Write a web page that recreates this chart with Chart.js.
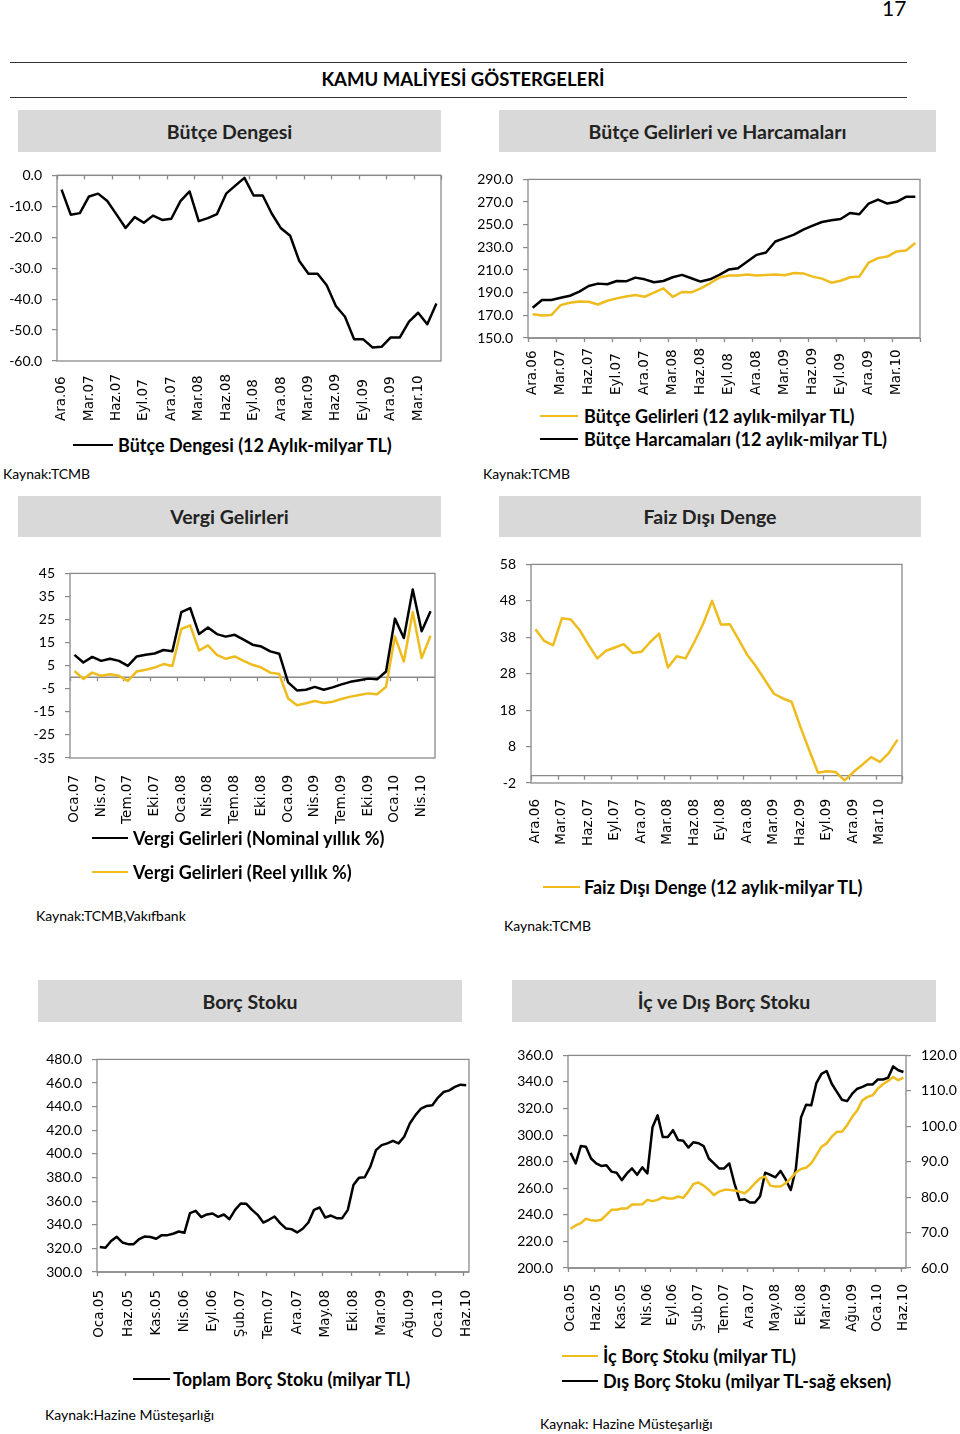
<!DOCTYPE html>
<html lang="tr">
<head>
<meta charset="utf-8">
<title>Kamu Maliyesi Göstergeleri</title>
<script src="https://cdn.jsdelivr.net/npm/chart.js@4.4.1/dist/chart.umd.min.js"></script>
<style>
  body { margin: 0; background: #fff; font-family: Lato, "Open Sans", sans-serif; color: #000; }
  #page { position: relative; width: 960px; height: 1434px; overflow: hidden; }
  .t { position: absolute; white-space: nowrap; }
  .hr { position: absolute; left: 10px; width: 897px; border-top: 1px solid #333; }
  .box { position: absolute; background: #d9d9d9; font-weight: 700; font-size: 19.5px; color: #222;
         display: flex; align-items: center; justify-content: center; }
  .leg { position: absolute; white-space: nowrap; font-weight: 700; font-size: 18px; line-height: 20px; }
  .sw { position: absolute; height: 2px; }
  .src { position: absolute; white-space: nowrap; font-size: 14px; line-height: 16px; }
  canvas { position: absolute; }
</style>
</head>
<body>
<div id="page">
  <div class="t" style="left:882px;top:-3px;font-size:21px;line-height:22px">17</div>
  <div class="hr" style="top:62px"></div>
  <div class="t" style="left:0;width:926px;top:68px;text-align:center;font-size:18.5px;line-height:22px;font-weight:700">KAMU MALİYESİ GÖSTERGELERİ</div>
  <div class="hr" style="top:97px"></div>

  <!-- başlık kutuları -->
  <div class="box" style="left:18px;top:110px;width:423px;height:42px">Bütçe Dengesi</div>
  <div class="box" style="left:499px;top:110px;width:437px;height:42px">Bütçe Gelirleri ve Harcamaları</div>
  <div class="box" style="left:18px;top:496px;width:423px;height:41px">Vergi Gelirleri</div>
  <div class="box" style="left:499px;top:496px;width:422px;height:41px">Faiz Dışı Denge</div>
  <div class="box" style="left:38px;top:980px;width:424px;height:42px">Borç Stoku</div>
  <div class="box" style="left:512px;top:980px;width:424px;height:42px">İç ve Dış Borç Stoku</div>

  <canvas id="c1" style="left:0px;top:157px" width="452" height="273"></canvas>
  <canvas id="c2" style="left:470px;top:161px" width="460" height="244"></canvas>
  <canvas id="c3" style="left:0px;top:555px" width="445" height="275"></canvas>
  <canvas id="c4" style="left:480px;top:546px" width="432" height="304"></canvas>
  <canvas id="c5" style="left:0px;top:1041px" width="479" height="299"></canvas>
  <canvas id="c6" style="left:500px;top:1037px" width="460" height="298"></canvas>

  <!-- lejantlar -->
  <div class="sw" style="left:73px;top:444px;width:40px;background:#000"></div>
  <div class="leg" style="left:118px;top:435px">Bütçe Dengesi (12 Aylık-milyar TL)</div>
  <div class="src" style="left:3px;top:466px">Kaynak:TCMB</div>

  <div class="sw" style="left:540px;top:415px;width:38px;background:#eebc1d"></div>
  <div class="leg" style="left:584px;top:406px">Bütçe Gelirleri (12 aylık-milyar TL)</div>
  <div class="sw" style="left:540px;top:438px;width:38px;background:#000"></div>
  <div class="leg" style="left:584px;top:429px">Bütçe Harcamaları (12 aylık-milyar TL)</div>
  <div class="src" style="left:483px;top:466px">Kaynak:TCMB</div>

  <div class="sw" style="left:92px;top:837px;width:36px;background:#000"></div>
  <div class="leg" style="left:133px;top:828px">Vergi Gelirleri (Nominal yıllık %)</div>
  <div class="sw" style="left:92px;top:871px;width:36px;background:#eebc1d"></div>
  <div class="leg" style="left:133px;top:862px">Vergi Gelirleri (Reel yıllık %)</div>
  <div class="src" style="left:36px;top:908px">Kaynak:TCMB,Vakıfbank</div>

  <div class="sw" style="left:543px;top:886px;width:37px;background:#eebc1d"></div>
  <div class="leg" style="left:584px;top:877px">Faiz Dışı Denge (12 aylık-milyar TL)</div>
  <div class="src" style="left:504px;top:918px">Kaynak:TCMB</div>

  <div class="sw" style="left:133px;top:1378px;width:37px;background:#000"></div>
  <div class="leg" style="left:173px;top:1369px">Toplam Borç Stoku (milyar TL)</div>
  <div class="src" style="left:45px;top:1407px">Kaynak:Hazine Müsteşarlığı</div>

  <div class="sw" style="left:562px;top:1355px;width:36px;background:#eebc1d"></div>
  <div class="leg" style="left:603px;top:1346px">İç Borç Stoku (milyar TL)</div>
  <div class="sw" style="left:562px;top:1380px;width:36px;background:#000"></div>
  <div class="leg" style="left:603px;top:1371px">Dış Borç Stoku (milyar TL-sağ eksen)</div>
  <div class="src" style="left:540px;top:1416px">Kaynak: Hazine Müsteşarlığı</div>
</div>

<script>
/* ay etiketleri */
const AYLAR = ['Oca', 'Şub', 'Mar', 'Nis', 'May', 'Haz', 'Tem', 'Ağu', 'Eyl', 'Eki', 'Kas', 'Ara'];
function ayListesi(ay, yil, adet) {
  const out = [];
  for (let i = 0; i < adet; i++) {
    const m = (ay + i) % 12, y = yil + Math.floor((ay + i) / 12);
    out.push(AYLAR[m] + '.' + String(y).padStart(2, '0'));
  }
  return out;
}
const aylarAra06 = ayListesi(11, 6, 42);   // Ara.06 - May.10
const aylarOca07 = ayListesi(0, 7, 41);    // Oca.07 - May.10
const aylarOca05 = ayListesi(0, 5, 66);    // Oca.05 - Haz.10

/* veriler */
const butceDengesi = [-4.6, -12.7, -12.2, -6.8, -5.9, -8.3, -12.6, -17.0, -13.5, -15.3,
  -13.0, -14.4, -14.0, -8.3, -5.2, -14.8, -13.8, -12.5, -5.9, -3.3,
  -0.8, -6.5, -6.5, -12.4, -17.1, -19.5, -27.7, -31.8, -31.8, -35.5,
  -42.2, -45.7, -53.0, -53.0, -55.6, -55.4, -52.4, -52.4, -47.3, -44.4, -48.1, -41.4];

const butceGelirleri = [171.0, 169.9, 170.2, 179.0, 181.1, 182.3, 182.0, 179.6, 182.9, 185.0,
  186.7, 187.9, 186.4, 190.0, 193.8, 186.4, 190.6, 190.3, 193.8, 198.3,
  203.3, 205.1, 205.1, 206.0, 205.1, 205.7, 206.0, 205.4, 207.4, 207.0,
  204.2, 202.4, 198.8, 200.5, 203.6, 204.2, 216.6, 220.5, 221.9, 226.4, 227.2, 233.8];
const butceHarcamalari = [176.7, 183.5, 183.5, 185.5, 187.3, 190.9, 195.9, 198.0, 197.4, 200.3,
  200.0, 203.3, 201.8, 199.2, 200.3, 203.6, 205.7, 202.7, 199.8, 201.8,
  205.7, 210.4, 211.6, 217.5, 223.4, 225.5, 235.2, 238.2, 241.2, 245.6,
  249.2, 252.4, 253.9, 255.1, 260.4, 259.2, 268.7, 272.2, 268.7, 270.2, 274.6, 274.6];

const vergiNominal = [9.7, 6.4, 8.8, 7.1, 8.0, 7.1, 4.9, 9.0, 9.7, 10.3,
  11.8, 11.3, 28.2, 30.0, 18.7, 21.6, 18.7, 17.6, 18.4, 16.3,
  14.1, 13.3, 11.2, 10.2, -2.2, -5.7, -5.4, -4.2, -5.4, -4.4,
  -3.1, -2.0, -1.3, -0.6, -0.9, 2.5, 25.4, 17.0, 38.0, 19.9, 28.6];
const vergiReel = [2.7, -0.7, 2.0, 0.6, 1.3, 0.6, -1.6, 2.5, 3.2, 4.2,
  5.7, 4.9, 20.9, 22.5, 11.6, 13.8, 9.7, 8.0, 9.0, 7.1,
  5.4, 4.2, 2.0, 1.4, -9.2, -12.1, -11.3, -10.3, -11.2, -10.6,
  -9.4, -8.4, -7.7, -7.0, -7.4, -4.1, 17.7, 6.8, 28.3, 8.3, 18.0];

const faizDisiDenge = [40.2, 37.0, 35.8, 43.2, 42.9, 40.0, 36.0, 32.2, 34.3, 35.2,
  36.1, 33.7, 34.0, 36.7, 39.0, 29.7, 32.8, 32.2, 36.7, 41.8,
  48.0, 41.5, 41.6, 37.4, 33.1, 29.9, 26.2, 22.5, 21.2, 20.3,
  13.4, 7.0, 0.8, 1.2, 1.0, -1.3, 1.0, 3.0, 5.1, 3.8, 6.2, 9.9];

const toplamBorc = [321.1, 320.5, 326.2, 329.8, 325.0, 323.6, 323.6, 327.9, 330.1, 329.6,
  328.1, 331.2, 331.2, 332.4, 334.3, 333.2, 349.8, 351.8, 346.4, 348.7,
  349.5, 346.7, 348.7, 344.7, 352.6, 358.0, 357.7, 352.6, 348.4, 341.9,
  344.2, 347.0, 341.4, 336.9, 336.3, 333.5, 336.6, 341.9, 352.6, 354.6,
  346.1, 347.8, 345.6, 345.6, 352.6, 373.7, 379.9, 380.2, 389.2, 403.2,
  407.4, 408.9, 411.1, 408.9, 414.5, 425.7, 432.8, 438.4, 440.6, 441.2,
  447.7, 452.4, 453.8, 456.7, 458.6, 458.2];

const icBorc = [229.5, 232.0, 233.8, 237.0, 236.0, 235.5, 236.3, 240.0, 243.8, 243.8,
  244.8, 244.8, 247.8, 247.8, 248.0, 251.3, 250.3, 251.3, 253.3, 252.3,
  252.3, 253.8, 252.8, 257.5, 263.3, 264.3, 262.0, 258.8, 254.8, 257.5,
  258.8, 258.8, 258.3, 257.5, 256.3, 259.5, 263.8, 267.5, 268.8, 262.0,
  261.3, 261.3, 263.8, 267.5, 271.8, 274.5, 275.5, 278.8, 285.0, 291.3,
  293.8, 298.8, 302.5, 302.5, 307.5, 313.8, 318.8, 326.3, 328.8, 330.0,
  335.0, 338.3, 340.8, 343.8, 341.3, 343.3];
const disBorc = [92.5, 89.5, 94.4, 94.2, 90.9, 89.5, 88.8, 89.0, 87.2, 86.9,
  84.8, 86.7, 88.1, 86.3, 88.4, 86.7, 99.7, 103.1, 97.0, 97.0,
  98.9, 96.1, 95.9, 94.0, 95.5, 95.2, 94.4, 90.9, 89.5, 88.1,
  88.1, 89.5, 83.9, 79.2, 79.4, 78.5, 78.5, 80.2, 86.9, 86.3,
  85.6, 87.4, 85.0, 82.0, 88.1, 102.5, 106.1, 105.9, 112.2, 114.8,
  115.6, 112.0, 109.7, 107.5, 107.1, 109.2, 110.6, 111.1, 111.8, 111.8,
  113.2, 113.2, 113.7, 116.9, 115.8, 115.3];

/* eksen etiketleri */
const tickDenge = [0, -10, -20, -30, -40, -50, -60];
const tickGelir = [290, 270, 250, 230, 210, 190, 170, 150];
const tickVergi = [45, 35, 25, 15, 5, -5, -15, -25, -35];
const tickFaiz = [58, 48, 38, 28, 18, 8, -2];
const tickBorc = [480, 460, 440, 420, 400, 380, 360, 340, 320, 300];
const tickIcBorc = [360, 340, 320, 300, 280, 260, 240, 220, 200];
const tickDisBorc = [120, 110, 100, 90, 80, 70, 60];

const SARI = '#eebc1d';
const GRI = '#8a8a8a';

/* excel tarzı çerçeve, eksen çizgisi, ay etiketleri */
const excelEksen = {
  id: 'excelEksen',
  beforeDatasetsDraw(chart, args, o) {
    const { ctx, chartArea: a } = chart;
    const x = chart.scales.x, y = chart.scales.y;
    ctx.save();
    ctx.strokeStyle = GRI;
    ctx.lineWidth = 1.3;
    ctx.strokeRect(a.left, a.top, a.right - a.left, a.bottom - a.top);
    const ay = o.axisAt === null ? a.bottom : y.getPixelForValue(o.axisAt);
    ctx.beginPath();
    ctx.moveTo(a.left, ay); ctx.lineTo(a.right, ay);
    const n = chart.data.labels.length;
    for (let i = 0; i <= n; i += o.every) {
      const px = Math.round(x.getPixelForValue(i - 0.5)) + 0.5;
      ctx.moveTo(px, ay); ctx.lineTo(px, ay + 4);
    }
    ctx.stroke();
    ctx.restore();
  },
  afterDraw(chart, args, o) {
    const { ctx, chartArea: a } = chart;
    const x = chart.scales.x;
    const lbls = chart.data.labels;
    ctx.save();
    ctx.font = '13.5px "DejaVu Sans"';
    ctx.fillStyle = '#000';
    ctx.textBaseline = 'middle';
    ctx.textAlign = o.labelAlign;
    for (let i = 0; i < lbls.length; i += o.every) {
      if (i > o.lastLabel) break;
      ctx.save();
      ctx.translate(x.getPixelForValue(i), a.bottom + o.labelY);
      ctx.rotate(-Math.PI / 2);
      ctx.fillText(lbls[i], 0, 0);
      ctx.restore();
    }
    ctx.restore();
  }
};

function yEksen(ticks, width, fmt, pos) {
  return {
    position: pos || 'left',
    min: Math.min(...ticks),
    max: Math.max(...ticks),
    afterBuildTicks: s => { s.ticks = ticks.map(v => ({ value: v })); },
    afterFit: s => { s.width = width; },
    grid: { drawOnChartArea: false, drawTicks: true, tickLength: 5, color: GRI, lineWidth: 1.2 },
    border: { display: false },
    ticks: { font: { family: 'Lato', size: 14 }, color: '#000', padding: 10, callback: fmt }
  };
}
const bir = v => v.toFixed(1);
const tam = v => String(v);

function cizgi(data, color, axis) {
  return { data: data, borderColor: color, borderWidth: 2.5, pointRadius: 0, tension: 0,
           borderJoinStyle: 'round', fill: false, yAxisID: axis || 'y' };
}

function grafik(id, labels, datasets, scales, pad, eksen) {
  return new Chart(document.getElementById(id), {
    type: 'line',
    data: { labels: labels, datasets: datasets },
    options: {
      responsive: false,
      animation: false,
      devicePixelRatio: 1,
      layout: { padding: pad },
      scales: Object.assign({ x: { type: 'category', display: false, offset: true } }, scales),
      plugins: { legend: { display: false }, tooltip: { enabled: false }, excelEksen: eksen }
    },
    plugins: [excelEksen]
  });
}

/* Bütçe Dengesi */
grafik('c1', aylarAra06, [cizgi(butceDengesi, '#000')],
  { y: yEksen(tickDenge, 57, bir) },
  { top: 12, right: 11, bottom: 69, left: 0 },
  { axisAt: 0, every: 3, lastLabel: 39, labelAlign: 'left', labelY: 60 });

/* Bütçe Gelirleri ve Harcamaları */
grafik('c2', aylarAra06, [cizgi(butceGelirleri, SARI), cizgi(butceHarcamalari, '#000')],
  { y: yEksen(tickGelir, 58, bir) },
  { top: 12, right: 10, bottom: 67, left: 0 },
  { axisAt: null, every: 3, lastLabel: 39, labelAlign: 'left', labelY: 57 });

/* Vergi Gelirleri */
grafik('c3', aylarOca07, [cizgi(vergiNominal, '#000'), cizgi(vergiReel, SARI)],
  { y: yEksen(tickVergi, 70, tam) },
  { top: 12, right: 10, bottom: 72, left: 0 },
  { axisAt: 0, every: 3, lastLabel: 39, labelAlign: 'right', labelY: 17 });

/* Faiz Dışı Denge */
grafik('c4', aylarAra06, [cizgi(faizDisiDenge, SARI)],
  { y: yEksen(tickFaiz, 51, tam) },
  { top: 12, right: 10, bottom: 67, left: 0 },
  { axisAt: 0, every: 3, lastLabel: 39, labelAlign: 'right', labelY: 16 });

/* Borç Stoku */
grafik('c5', aylarOca05, [cizgi(toplamBorc, '#000')],
  { y: yEksen(tickBorc, 97, bir) },
  { top: 12, right: 10, bottom: 68, left: 0 },
  { axisAt: null, every: 5, lastLabel: 65, labelAlign: 'right', labelY: 18 });

/* İç ve Dış Borç Stoku */
grafik('c6', aylarOca05, [cizgi(icBorc, SARI), cizgi(disBorc, '#000', 'y2')],
  { y: yEksen(tickIcBorc, 68, bir), y2: yEksen(tickDisBorc, 54, bir, 'right') },
  { top: 12, right: 0, bottom: 67, left: 0 },
  { axisAt: null, every: 5, lastLabel: 65, labelAlign: 'right', labelY: 16 });
</script>
</body>
</html>
